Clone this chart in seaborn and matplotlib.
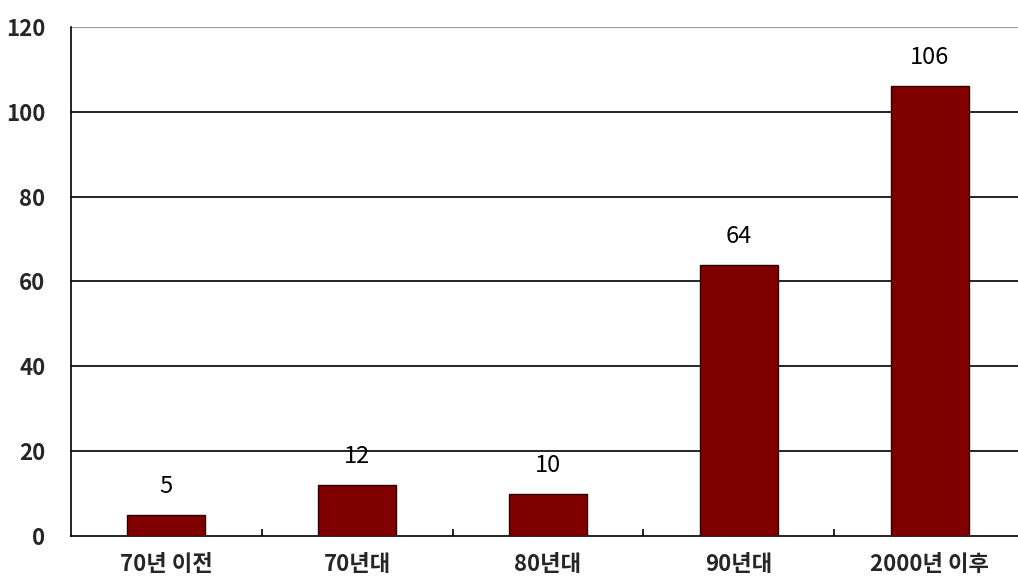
import matplotlib
matplotlib.use("Agg")
import matplotlib.pyplot as plt
import seaborn as sns
import pandas as pd

categories = ["70년 이전", "70년대", "80년대", "90년대", "2000년 이후"]
values = [5, 12, 10, 64, 106]
yticks = [0, 20, 40, 60, 80, 100, 120]

sns.set_theme(style="white")
plt.rcParams['font.family'] = ['Noto Sans CJK KR', 'DejaVu Sans']

df = pd.DataFrame({"cat": categories, "val": values})

fig = plt.figure(figsize=(10.18, 5.84), dpi=100)
ax = fig.add_axes([0.0693, 0.0822, 0.938, 0.8716])

sns.barplot(data=df, x="cat", y="val", color="#800000", width=0.405,
            edgecolor="#2a0000", linewidth=1.0, saturation=1, ax=ax, zorder=3)

ax.set_ylim(0, 120)
ax.set_xlim(-0.5, 4.5)
ax.set_yticks(yticks)
ax.set_yticklabels([str(t) for t in yticks], fontsize=16, fontweight="bold")
ax.set_xticklabels(categories, fontsize=16, fontweight="bold")
ax.set_xlabel("")
ax.set_ylabel("")

for t in yticks[1:-1]:
    ax.axhline(t, color="black", linewidth=1.2, zorder=1)
ax.axhline(120, color="#999999", linewidth=1.5, zorder=1)

for s in ["top", "right"]:
    ax.spines[s].set_visible(False)
ax.spines["left"].set_color("black")
ax.spines["bottom"].set_color("black")
ax.spines["left"].set_linewidth(1.2)
ax.spines["bottom"].set_linewidth(1.2)

ax.tick_params(axis="x", which="major", length=0, pad=12)
ax.tick_params(axis="y", length=0, pad=18)
ax.set_xticks([0.5, 1.5, 2.5, 3.5], minor=True)
ax.tick_params(axis="x", which="minor", bottom=True, direction="in",
               length=5, width=1.2, color="black")

for i, v in enumerate(values):
    ax.text(i, v + 4, str(v), ha="center", va="bottom", fontsize=17, color="black")

fig.savefig("out.png", dpi=100, facecolor="white")
